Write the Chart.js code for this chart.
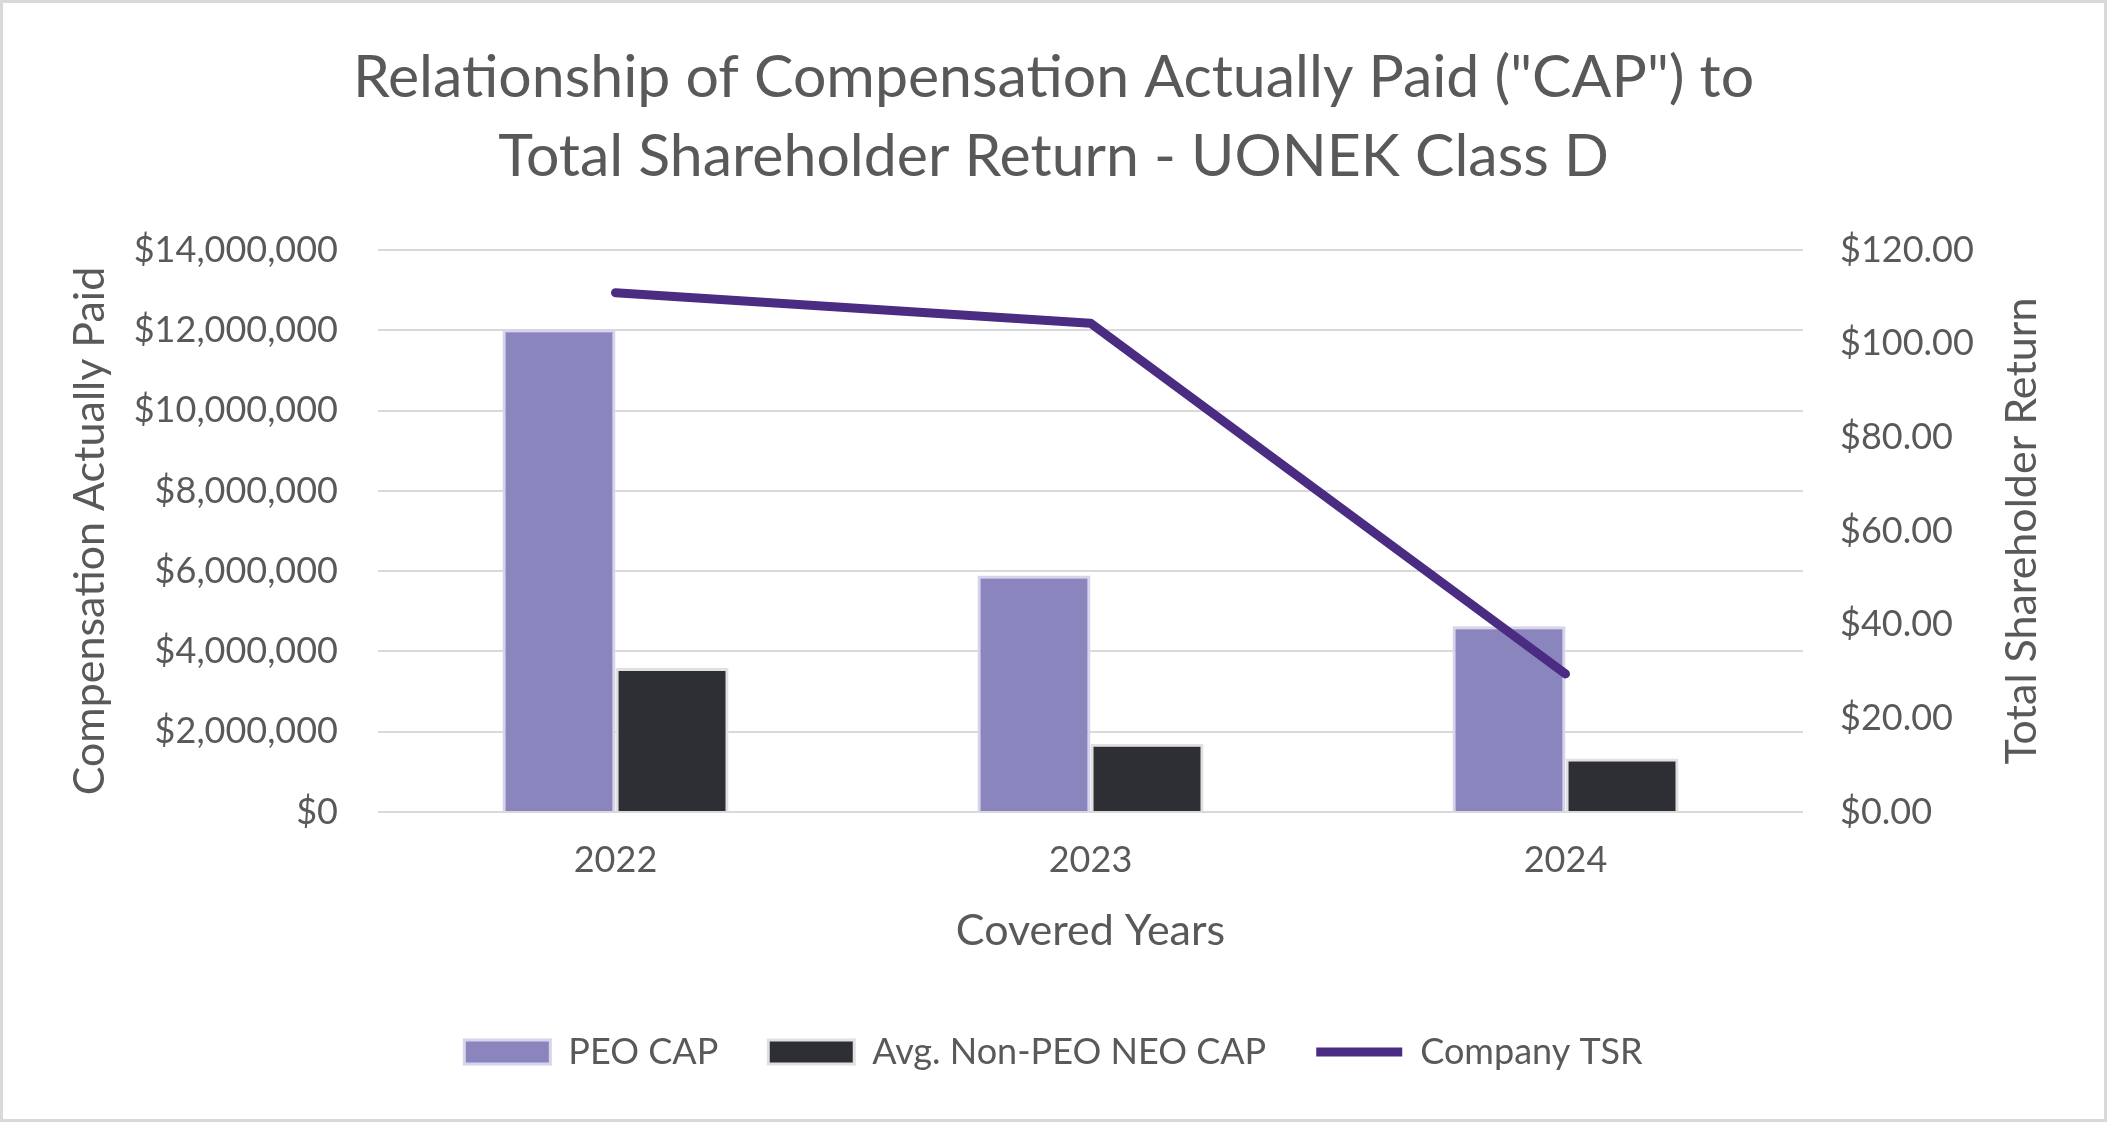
<!DOCTYPE html>
<html>
<head>
<meta charset="utf-8">
<script src="https://cdn.jsdelivr.net/npm/chart.js@4/dist/chart.umd.min.js"></script>
<style>
  html, body { margin: 0; padding: 0; background: #fff; }
  #wrap { width: 2107px; height: 1122px; }
</style>
</head>
<body>
<div id="wrap"><canvas id="chartCanvas" width="2107" height="1122"></canvas></div>
<script>
const years = ['2022', '2023', '2024'];
const peoCap = [12030000, 5890000, 4630000];
const neoCap = [3590000, 1700000, 1330000];
const companyTsr = [110.9, 104.4, 29.5];

const titleLines = ['Relationship of Compensation Actually Paid ("CAP") to', 'Total Shareholder Return - UONEK Class D'];
const leftTitle = 'Compensation Actually Paid';
const rightTitle = 'Total Shareholder Return';
const xTitle = 'Covered Years';

const textColor = '#595959';
const gridColor = '#d9d9d9';
const fontFamily = 'Lato, "Open Sans", sans-serif';

// white background + outer border, and the right axis title read bottom-to-top
const framePlugin = {
    id: 'frame',
    beforeDraw(chart) {
        const c = chart.ctx;
        c.save();
        c.fillStyle = '#fff';
        c.fillRect(0, 0, chart.width, chart.height);
        c.strokeStyle = gridColor;
        c.lineWidth = 3;
        c.strokeRect(1.5, 1.5, chart.width - 3, chart.height - 3);
        c.restore();
    },
    afterDraw(chart) {
        const c = chart.ctx;
        const area = chart.chartArea;
        c.save();
        c.translate(2022, (area.top + area.bottom) / 2);
        c.rotate(-Math.PI / 2);
        c.fillStyle = textColor;
        c.font = '43px ' + fontFamily;
        c.textAlign = 'center';
        c.textBaseline = 'middle';
        c.fillText(rightTitle, 0, 0);
        c.restore();
    }
};

const ctx = document.getElementById('chartCanvas').getContext('2d');
const chart = new Chart(ctx, {
    type: 'bar',
    data: {
        labels: years,
        datasets: [{
            label: 'PEO CAP',
            data: peoCap,
            backgroundColor: '#8b85be',
            borderColor: '#d8d3ec',
            borderWidth: 3,
            yAxisID: 'y',
            order: 1
        }, {
            label: 'Avg. Non-PEO NEO CAP',
            data: neoCap,
            backgroundColor: '#2e2f34',
            borderColor: '#e0e0e0',
            borderWidth: 3,
            yAxisID: 'y',
            order: 2
        }, {
            type: 'line',
            label: 'Company TSR',
            data: companyTsr,
            borderColor: '#4a2c82',
            backgroundColor: '#4a2c82',
            borderWidth: 9,
            borderCapStyle: 'round',
            borderJoinStyle: 'round',
            pointRadius: 0,
            tension: 0,
            yAxisID: 'y1',
            order: 0
        }]
    },
    options: {
        responsive: false,
        animation: false,
        devicePixelRatio: 1,
        layout: { padding: { top: 0, left: 0, right: 0, bottom: 42 } },
        datasets: {
            bar: { categoryPercentage: 0.476, barPercentage: 1 }
        },
        plugins: {
            title: {
                display: true,
                text: titleLines,
                color: textColor,
                font: { family: fontFamily, size: 59, weight: 'normal', lineHeight: 1.34 },
                padding: { top: 38, bottom: 54 }
            },
            legend: {
                position: 'bottom',
                labels: {
                    color: textColor,
                    font: { family: fontFamily, size: 36 },
                    usePointStyle: true,
                    pointStyleWidth: 86,
                    boxHeight: 24,
                    padding: 50,
                    sort: (a, b) => a.datasetIndex - b.datasetIndex,
                    generateLabels(chart) {
                        const items = Chart.defaults.plugins.legend.labels.generateLabels(chart);
                        items.forEach(item => {
                            item.pointStyle = item.datasetIndex === 2 ? 'line' : 'rect';
                        });
                        return items;
                    }
                }
            },
            tooltip: { enabled: false }
        },
        scales: {
            x: {
                grid: { display: false, drawTicks: false },
                border: { display: false },
                ticks: { color: textColor, font: { family: fontFamily, size: 36 }, padding: 27 },
                title: {
                    display: true,
                    text: xTitle,
                    color: textColor,
                    font: { family: fontFamily, size: 43 },
                    padding: { top: 0, bottom: 27 }
                },
                afterFit(scale) { scale.height = 172; }
            },
            y: {
                position: 'left',
                min: 0,
                max: 14000000,
                grid: { color: gridColor, lineWidth: 2, drawTicks: false },
                border: { display: false },
                ticks: {
                    stepSize: 2000000,
                    color: textColor,
                    font: { family: fontFamily, size: 36 },
                    padding: 40,
                    callback: v => '$' + v.toLocaleString('en-US')
                },
                title: {
                    display: true,
                    text: leftTitle,
                    color: textColor,
                    font: { family: fontFamily, size: 43 },
                    padding: { top: 64, bottom: 0 }
                },
                afterFit(scale) { scale.width = 378; }
            },
            y1: {
                position: 'right',
                min: 0,
                max: 120,
                grid: { display: false, drawTicks: false },
                border: { display: false },
                ticks: {
                    stepSize: 20,
                    color: textColor,
                    font: { family: fontFamily, size: 36 },
                    padding: 37,
                    callback: v => '$' + v.toFixed(2)
                },
                afterFit(scale) { scale.width = 304; }
            }
        }
    },
    plugins: [framePlugin]
});
</script>
</body>
</html>
